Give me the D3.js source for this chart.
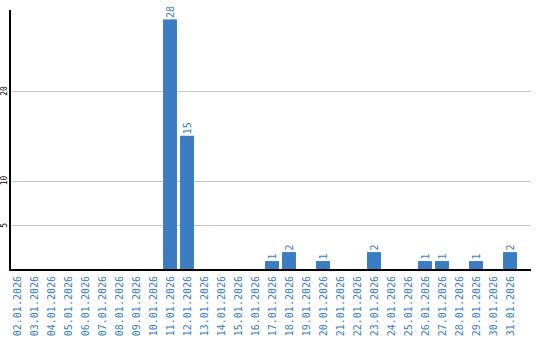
<!DOCTYPE html>
<html>
<head>
<meta charset="utf-8">
<script src="https://cdn.jsdelivr.net/npm/d3@7"></script>
<style>
body { margin: 0; background: #fff; }
</style>
</head>
<body>
<div id="plot"></div>
<script>
// data
const days = ["02.01.2026","03.01.2026","04.01.2026","05.01.2026","06.01.2026","07.01.2026","08.01.2026","09.01.2026","10.01.2026","11.01.2026","12.01.2026","13.01.2026","14.01.2026","15.01.2026","16.01.2026","17.01.2026","18.01.2026","19.01.2026","20.01.2026","21.01.2026","22.01.2026","23.01.2026","24.01.2026","25.01.2026","26.01.2026","27.01.2026","28.01.2026","29.01.2026","30.01.2026","31.01.2026"];
const counts = [0,0,0,0,0,0,0,0,0,28,15,0,0,0,0,1,2,0,1,0,0,2,0,0,1,1,0,1,0,2];
const yTicks = [5, 10, 20];

const blue = "#3a7dc3";
let width = 540, height = 340;
let baseY = 270;

let svg = d3.select("#plot")
	.append("svg")
		.attr("width", width)
		.attr("height", height);

let y = d3.scaleLinear()
	.domain([0, 20])
	.range([baseY, 91]);

let x = d3.scaleBand()
	.domain(days)
	.range([8.5, 518.5])
	.paddingInner(0.18)
	.paddingOuter(0.09);

// grid lines
svg.selectAll("grid")
	.data(yTicks)
	.enter()
	.append("line")
		.attr("x1", 10)
		.attr("x2", 531)
		.attr("y1", d => Math.round(y(d)) + 0.5)
		.attr("y2", d => Math.round(y(d)) + 0.5)
		.attr("stroke", "#c8c8c8")
		.attr("stroke-width", 1);

// y tick labels
svg.selectAll("ylab")
	.data(yTicks)
	.enter()
	.append("text")
		.attr("transform", d => "translate(7," + y(d) + ") rotate(-90)")
		.attr("text-anchor", "middle")
		.style("font-family", "DejaVu Sans Mono")
		.style("font-size", "8px")
		.attr("fill", "#000")
		.text(d => d);

// bars
svg.selectAll("bars")
	.data(days)
	.enter()
	.filter((d, i) => counts[i] > 0)
	.append("rect")
		.attr("x", d => x(d))
		.attr("y", d => y(counts[days.indexOf(d)]))
		.attr("width", x.bandwidth())
		.attr("height", d => baseY - y(counts[days.indexOf(d)]))
		.style("fill", blue);

// value labels
svg.selectAll("vals")
	.data(days)
	.enter()
	.filter((d, i) => counts[i] > 0)
	.append("text")
		.attr("transform", d => "translate(" + (x(d) + x.bandwidth() / 2) + "," + (y(counts[days.indexOf(d)]) - 1.5) + ") rotate(-90)")
		.attr("dy", "0.35em")
		.attr("text-anchor", "start")
		.style("font-family", "DejaVu Sans Mono")
		.style("font-size", "10px")
		.attr("fill", blue)
		.text(d => counts[days.indexOf(d)]);

// axes
svg.append("line")
	.attr("x1", 10).attr("x2", 10)
	.attr("y1", 10).attr("y2", baseY + 1)
	.attr("stroke", "black").attr("stroke-width", 2);
svg.append("line")
	.attr("x1", 9).attr("x2", 531)
	.attr("y1", baseY).attr("y2", baseY)
	.attr("stroke", "black").attr("stroke-width", 2);

// x labels
svg.selectAll("xlab")
	.data(days)
	.enter()
	.append("text")
		.attr("transform", d => "translate(" + (x(d) + x.bandwidth() / 2) + "," + (baseY + 6) + ") rotate(-90)")
		.attr("dy", "0.35em")
		.attr("text-anchor", "end")
		.style("font-family", "DejaVu Sans Mono")
		.style("font-size", "10px")
		.attr("fill", blue)
		.text(d => d);
</script>
</body>
</html>
